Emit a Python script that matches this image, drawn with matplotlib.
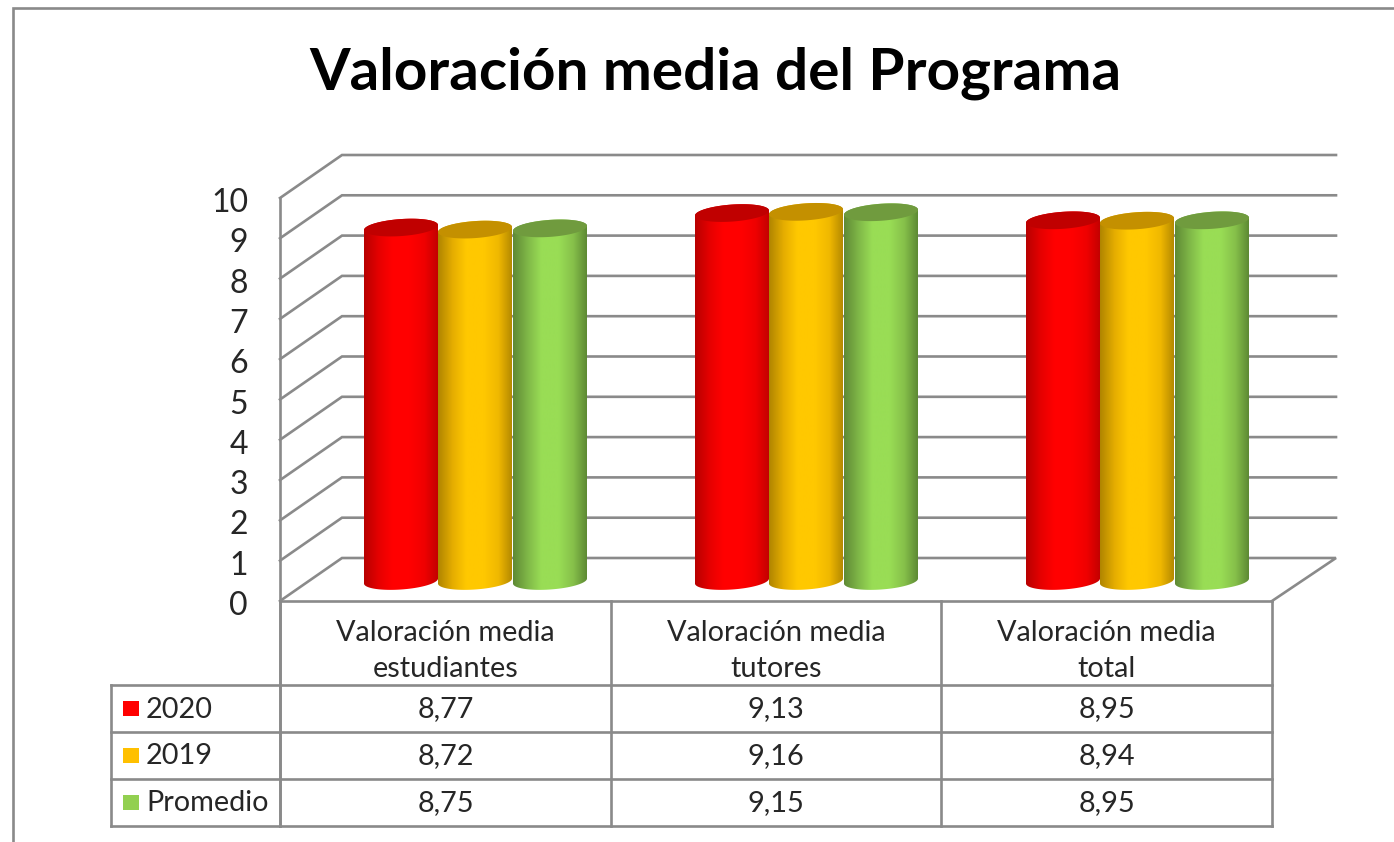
import numpy as np
import matplotlib
matplotlib.use("Agg")
import matplotlib.pyplot as plt
from matplotlib.colors import LinearSegmentedColormap
from matplotlib.patches import Polygon, Rectangle

# ---- data ----
title = "Valoración media del Programa"
categories = ["Valoración media\nestudiantes", "Valoración media\ntutores", "Valoración media\ntotal"]
series_names = ["2020", "2019", "Promedio"]
values_2020 = [8.77, 9.13, 8.95]
values_2019 = [8.72, 9.16, 8.94]
values_prom = [8.75, 9.15, 8.95]
y_ticks = [0, 1, 2, 3, 4, 5, 6, 7, 8, 9, 10]

# ---- styles ----
W, H = 1394, 842
FONT = "Lato"
GRAY = "#8a8a8a"
TXT = "#262626"
LW = 1.9
TABLE_FS = 20.8
key_colors = ["#FF0000", "#FFC000", "#92D050"]
body_stops = [
    ["#b80000", "#e60000", "#ff0000", "#ff0000", "#f00000", "#c40000"],
    ["#b08500", "#e6ae00", "#ffc800", "#ffc800", "#f0b800", "#b58a00"],
    ["#5f8a35", "#80b848", "#99dd55", "#99dd55", "#86c04a", "#5e8a34"],
]
top_colors = ["#C00000", "#C49000", "#709B3E"]

fig = plt.figure(figsize=(W / 100, H / 100), dpi=100, facecolor="white")
ax = fig.add_axes([0, 0, 1, 1])
ax.axis("off")

# The value axis: 40.3 px per unit, cylinder base at y px 581, category pitch 331 px
PX_UNIT = 40.3
BASE = 581.0
PITCH = 331.0
X0 = 475.0
ax.set_xlim((0 - X0) / PITCH, (W - X0) / PITCH)
ax.set_ylim((BASE - H) / PX_UNIT, BASE / PX_UNIT)


def X(px):
    return (px - X0) / PITCH


def Y(px):
    return (BASE - px) / PX_UNIT


def line(xs, ys, **kw):
    ax.plot([X(x) for x in xs], [Y(y) for y in ys], color=GRAY, lw=LW,
            solid_capstyle="projecting", solid_joinstyle="miter", **kw)


# outer frame
line([13, 13, W], [H, 8, 8])

# walls and gridlines
FRONT, BACK = 601.0, 558.0
L_F, L_B, R_F, R_B = 280.0, 342.0, 1272.0, 1336.0
for v in y_ticks:
    yf = FRONT - PX_UNIT * v
    yb = BACK - PX_UNIT * v
    if v == 0:
        line([L_F, L_B, R_B, R_F], [yf, yb, yb, yf])
    else:
        line([L_F, L_B, R_B], [yf, yb, yb])
    ax.text(X(248), Y(yf + 5), str(v), ha="right", va="center",
            fontsize=23, family=FONT, color=TXT)
line([L_F, L_F], [FRONT - PX_UNIT * 10, 826])

# cylinders
BAR_W = 74.0
ELL_H = 8.5
TILT = 2.5
t = np.linspace(0, 2 * np.pi, 181)
offsets = [-BAR_W, 0.0, BAR_W + 1]
all_values = [values_2020, values_2019, values_prom]


def ellipse_pts(cx_data, v, t_arr):
    dx = (BAR_W / 2 * np.cos(t_arr)) / PITCH
    dy = (ELL_H * np.sin(t_arr) + TILT * np.cos(t_arr)) / PX_UNIT
    return np.column_stack([cx_data + dx, v + dy])


for s, vals in enumerate(all_values):
    cmap = LinearSegmentedColormap.from_list(
        f"c{s}", list(zip([0, 0.2, 0.38, 0.62, 0.82, 1], body_stops[s])))
    for c, v in enumerate(vals):
        cx = c + offsets[s] / PITCH
        lower = ellipse_pts(cx, 0.0, np.linspace(0, -np.pi, 91))
        upper = ellipse_pts(cx, v, np.linspace(np.pi, 0, 91))
        body = np.vstack([lower, upper])
        patch = Polygon(body, closed=True, transform=ax.transData, fc="none", ec="none")
        ax.add_patch(patch)
        img = ax.imshow(np.linspace(0, 1, 128)[None, :], cmap=cmap, aspect="auto",
                        extent=[cx - BAR_W / 2 / PITCH, cx + BAR_W / 2 / PITCH, -1, v + 1],
                        zorder=3 + s, interpolation="bilinear")
        img.set_clip_path(patch)
        ax.add_patch(Polygon(ellipse_pts(cx, v, t), closed=True, fc=top_colors[s],
                             ec="none", zorder=3 + s))

ax.set_xlim((0 - X0) / PITCH, (W - X0) / PITCH)
ax.set_ylim((BASE - H) / PX_UNIT, BASE / PX_UNIT)

# data table
rows = [685.0, 732.0, 778.5, 826.0]
cols = [L_F, 611.0, 941.0, R_F]
line([L_F, R_F], [FRONT, FRONT])
line([111, 111], [rows[0], rows[-1]])
for r in rows:
    line([111, R_F], [r, r])
for x in cols:
    line([x, x], [FRONT, rows[-1]])
for i, cat in enumerate(categories):
    first, second = cat.split("\n")
    xc = X((cols[i] + cols[i + 1]) / 2)
    ax.text(xc, Y(633), first, ha="center", va="center", fontsize=TABLE_FS, family=FONT, color=TXT)
    ax.text(xc, Y(669), second, ha="center", va="center", fontsize=TABLE_FS, family=FONT, color=TXT)
for s, vals in enumerate(all_values):
    yc = (rows[s] + rows[s + 1]) / 2
    ax.add_patch(Rectangle((X(122.5), Y(yc + 7.5)), 17 / PITCH, 15 / PX_UNIT,
                           fc=key_colors[s], ec="none", zorder=5))
    ax.text(X(146), Y(yc + 1), series_names[s], ha="left", va="center",
            fontsize=TABLE_FS, family=FONT, color=TXT)
    for c, v in enumerate(vals):
        xc = X((cols[c] + cols[c + 1]) / 2)
        ax.text(xc, Y(yc + 1), f"{v:.2f}".replace(".", ","), ha="center", va="center",
                fontsize=TABLE_FS, family=FONT, color=TXT)

# title
ax.text(X(715), Y(73), title, ha="center", va="center", fontsize=42.1,
        fontweight="bold", family=FONT, color="black")

fig.savefig("out.png", dpi=100, facecolor="white")
